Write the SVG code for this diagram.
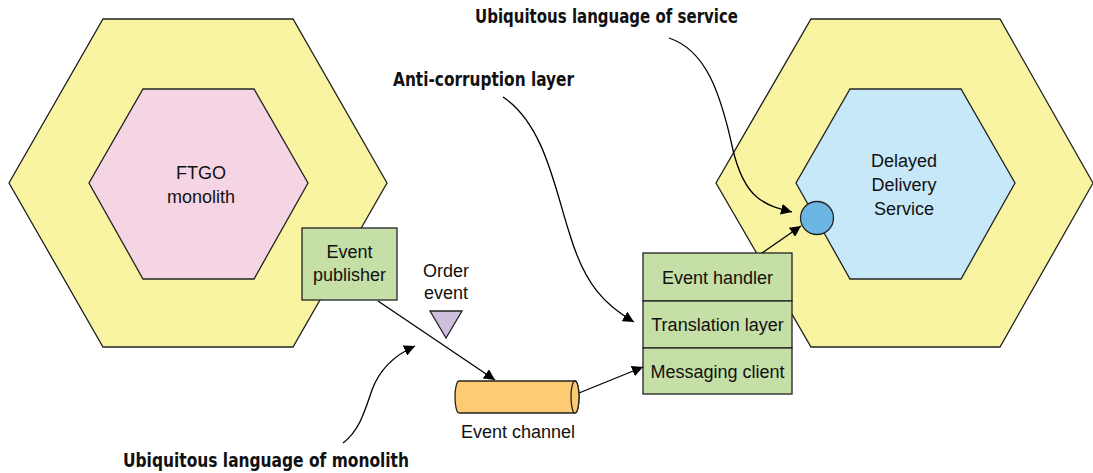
<svg xmlns="http://www.w3.org/2000/svg" width="1093" height="473" viewBox="0 0 1093 473">
<style>
.ln{stroke:#000;stroke-width:1.3;fill:none}
.sh{stroke:#222;stroke-width:1.3}
.t{font-family:"Liberation Sans",Arial,sans-serif;font-size:18px;fill:#111;text-anchor:middle}
.b{font-family:"Liberation Sans Narrow","DejaVu Sans Condensed","Liberation Sans",sans-serif;font-weight:bold;font-size:19px;fill:#111}
</style>
<defs>
<marker id="ah" viewBox="0 0 10 10" refX="10" refY="5" markerWidth="11" markerHeight="11" markerUnits="userSpaceOnUse" orient="auto">
<path d="M0,0 L10,5 L0,10 Z" fill="#000"/>
</marker>
</defs>
<g id="monolith-outer">
<polygon class="sh" fill="#F9F4A2" points="103,19 293,19 387,183 293,347 103,347 9,183"/>
</g>
<g id="monolith">
<polygon class="sh" fill="#F5D4E4" points="143,89 254,89 308,183 254,279 143,279 89,183"/>
<text class="t" x="201" y="179">FTGO</text>
<text class="t" x="201" y="203">monolith</text>
</g>
<g id="service-outer">
<polygon class="sh" fill="#F9F4A2" points="811,19 1000,19 1093,183 1000,347 811,347 716,183"/>
</g>
<g id="service">
<polygon class="sh" fill="#C7E8F8" points="850,89 961,89 1015,183 961,279 850,279 796,183"/>
<text class="t" x="904" y="167">Delayed</text>
<text class="t" x="904" y="191">Delivery</text>
<text class="t" x="904" y="215">Service</text>
</g>
<g id="port">
<circle class="sh" fill="#6BB6E3" cx="817" cy="218" r="16.5"/>
</g>
<g id="event-publisher">
<rect class="sh" fill="#C5DFA6" x="302" y="228" width="95" height="72"/>
<text class="t" x="349.5" y="258">Event</text>
<text class="t" x="349.5" y="281">publisher</text>
</g>
<g id="order-event">
<polygon class="sh" fill="#CFBFDF" points="430,311 462,311 446,338"/>
<text class="t" x="446" y="277">Order</text>
<text class="t" x="446" y="299">event</text>
</g>
<g id="event-channel">
<path class="sh" fill="#FECB75" d="M459,381 L575,381 A4,16 0 0 1 575,413 L459,413 A4,16 0 0 1 459,381 Z"/>
<ellipse class="sh" fill="#FECB75" cx="575" cy="397" rx="4" ry="16"/>
<text class="t" x="518" y="438">Event channel</text>
</g>
<g id="adapter">
<rect class="sh" fill="#C5DFA6" x="643" y="253" width="149" height="48"/>
<rect class="sh" fill="#C5DFA6" x="643" y="301" width="149" height="47"/>
<rect class="sh" fill="#C5DFA6" x="643" y="348" width="149" height="46"/>
<text class="t" x="717.5" y="284">Event handler</text>
<text class="t" x="717.5" y="331">Translation layer</text>
<text class="t" x="717.5" y="378">Messaging client</text>
</g>
<g id="labels">
<text class="b" x="475" y="23" textLength="263" lengthAdjust="spacingAndGlyphs">Ubiquitous language of service</text>
<text class="b" x="393" y="86" textLength="181" lengthAdjust="spacingAndGlyphs">Anti-corruption layer</text>
<text class="b" x="123" y="467" textLength="286" lengthAdjust="spacingAndGlyphs">Ubiquitous language of monolith</text>
</g>
<g id="connectors">
<line class="ln" x1="378" y1="301" x2="495" y2="380" marker-end="url(#ah)"/>
<line class="ln" x1="579" y1="393" x2="643" y2="367" marker-end="url(#ah)"/>
<line class="ln" x1="762" y1="253" x2="801" y2="226" marker-end="url(#ah)"/>
<path class="ln" stroke-width="1" d="M669,38 C705,50 720,90 733,150 C745,200 765,205 792,212" marker-end="url(#ah)"/>
<path class="ln" stroke-width="1" d="M503,97 C545,125 555,190 570,235 C585,285 605,305 634,322" marker-end="url(#ah)"/>
<path class="ln" stroke-width="1" d="M343,443 C360,430 365,410 372,390 C380,368 395,355 415,346" marker-end="url(#ah)"/>
</g>
</svg>
